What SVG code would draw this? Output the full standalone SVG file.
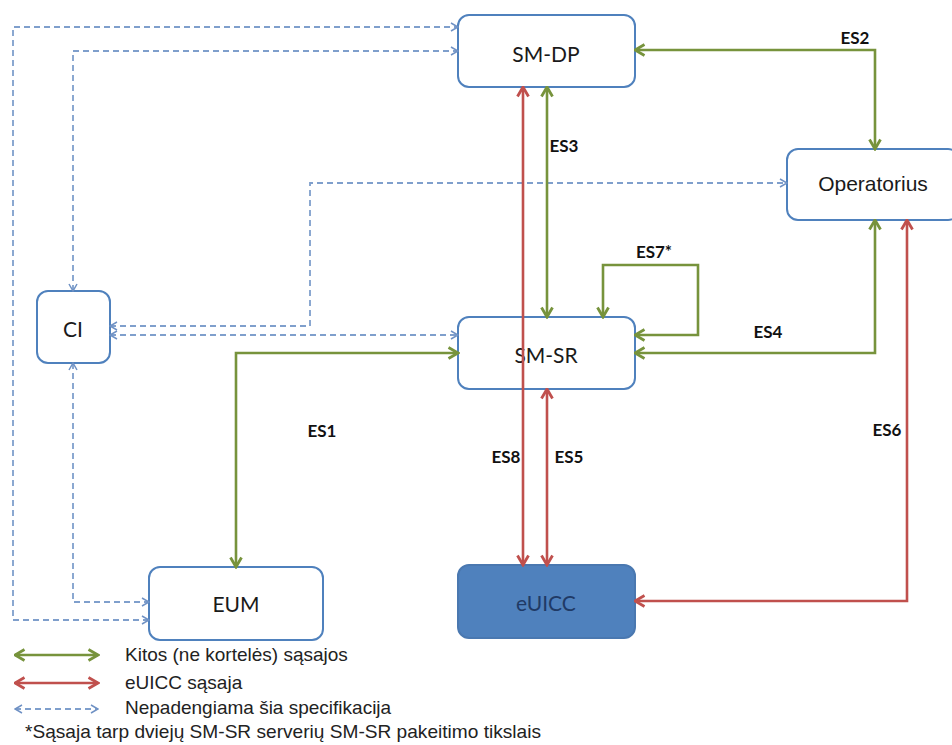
<svg xmlns="http://www.w3.org/2000/svg" width="952" height="745" viewBox="0 0 952 745">
<style>
.node{fill:#fff;stroke:#4f81bd;stroke-width:2}
.fill{fill:#4f81bd;stroke:#4a78b0;stroke-width:2}
.nt{font-family:Lato,"Open Sans",sans-serif;font-size:21px;fill:#1a1a1a;text-anchor:middle}
.ot{font-family:"Liberation Sans",Arial,sans-serif;font-size:21px;fill:#1a1a1a;text-anchor:middle}
.lb{font-family:Lato,"Open Sans",sans-serif;font-weight:bold;font-size:17px;fill:#111;text-anchor:middle}
.lg{font-family:"Liberation Sans",Arial,sans-serif;font-size:19px;fill:#222}
.g{fill:none;stroke:#77933c;stroke-width:2.6}
.r{fill:none;stroke:#c0504d;stroke-width:2.6}
.d{fill:none;stroke:#7f9fcc;stroke-width:1.8;stroke-dasharray:6 4}
</style>
<defs>
<marker id="ag" viewBox="0 0 14 14" refX="12.5" refY="7" markerWidth="14" markerHeight="14" markerUnits="userSpaceOnUse" orient="auto-start-reverse"><path d="M3,1.5 L12.5,7 L3,12.5" fill="none" stroke="#77933c" stroke-width="2.8"/></marker>
<marker id="ar" viewBox="0 0 14 14" refX="12.5" refY="7" markerWidth="14" markerHeight="14" markerUnits="userSpaceOnUse" orient="auto-start-reverse"><path d="M3,1.5 L12.5,7 L3,12.5" fill="none" stroke="#c0504d" stroke-width="2.8"/></marker>
<marker id="ad" viewBox="0 0 10 10" refX="9" refY="5" markerWidth="10" markerHeight="10" markerUnits="userSpaceOnUse" orient="auto-start-reverse"><path d="M2,1 L9,5 L2,9" fill="none" stroke="#6f91c4" stroke-width="1.5"/></marker>
</defs>

<g id="SM-DP"><rect class="node" x="458" y="15" width="177" height="72" rx="11"/><text class="nt" x="546" y="62">SM-DP</text></g>
<g id="Operatorius"><rect class="node" x="787" y="149" width="172" height="71" rx="11"/><text class="ot" x="873" y="191">Operatorius</text></g>
<g id="CI"><rect class="node" x="37" y="291" width="73" height="72" rx="11"/><text class="nt" x="73" y="337">CI</text></g>
<g id="SM-SR"><rect class="node" x="458" y="317" width="177" height="72" rx="11"/><text class="nt" x="546" y="363">SM-SR</text></g>
<g id="EUM"><rect class="node" x="149" y="567" width="174" height="73" rx="11"/><text class="nt" x="236" y="612">EUM</text></g>
<g id="eUICC"><rect class="fill" x="458" y="565" width="177" height="73" rx="11"/><text class="nt" x="546" y="611" style="fill:#1f3a66">eUICC</text></g>

<g id="connectors">
<path class="d" d="M149,620 L13,620 L13,27 L458,27" marker-start="url(#ad)" marker-end="url(#ad)"/>
<path class="d" d="M73,291 L73,51 L458,51" marker-start="url(#ad)" marker-end="url(#ad)"/>
<path class="d" d="M73,363 L73,602 L149,602" marker-start="url(#ad)" marker-end="url(#ad)"/>
<path class="d" d="M110,326 L310,326 L310,183 L787,183" marker-start="url(#ad)" marker-end="url(#ad)"/>
<path class="d" d="M110,335 L458,335" marker-start="url(#ad)" marker-end="url(#ad)"/>
<path class="g" d="M635,50 L875,50 L875,149" marker-start="url(#ag)" marker-end="url(#ag)"/>
<path class="g" d="M547,87 L547,317" marker-start="url(#ag)" marker-end="url(#ag)"/>
<path class="g" d="M635,335 L698,335 L698,265 L603,265 L603,317" marker-start="url(#ag)" marker-end="url(#ag)"/>
<path class="g" d="M635,353 L875,353 L875,220" marker-start="url(#ag)" marker-end="url(#ag)"/>
<path class="g" d="M236,567 L236,353 L458,353" marker-start="url(#ag)" marker-end="url(#ag)"/>
<path class="r" d="M523,87 L523,565" marker-start="url(#ar)" marker-end="url(#ar)"/>
<path class="r" d="M547,389 L547,565" marker-start="url(#ar)" marker-end="url(#ar)"/>
<path class="r" d="M635,601 L907,601 L907,220" marker-start="url(#ar)" marker-end="url(#ar)"/>
<text class="lb" x="855" y="44">ES2</text>
<text class="lb" x="564" y="152">ES3</text>
<text class="lb" x="654" y="258">ES7*</text>
<text class="lb" x="768" y="338">ES4</text>
<text class="lb" x="322" y="437">ES1</text>
<text class="lb" x="506" y="463">ES8</text>
<text class="lb" x="569" y="463">ES5</text>
<text class="lb" x="887" y="436">ES6</text>
</g>

<g id="legend">
<path class="g" d="M15,655 L98,655" marker-start="url(#ag)" marker-end="url(#ag)"/>
<path class="r" d="M15,683 L98,683" marker-start="url(#ar)" marker-end="url(#ar)"/>
<path class="d" d="M15,709 L98,709" marker-start="url(#ad)" marker-end="url(#ad)"/>
<text class="lg" x="125" y="661">Kitos (ne kortelės) sąsajos</text>
<text class="lg" x="125" y="689">eUICC sąsaja</text>
<text class="lg" x="125" y="714">Nepadengiama šia specifikacija</text>
<text class="lg" x="25" y="738" textLength="516" lengthAdjust="spacingAndGlyphs">*Sąsaja tarp dviejų SM-SR serverių SM-SR pakeitimo tikslais</text>
</g>
</svg>
